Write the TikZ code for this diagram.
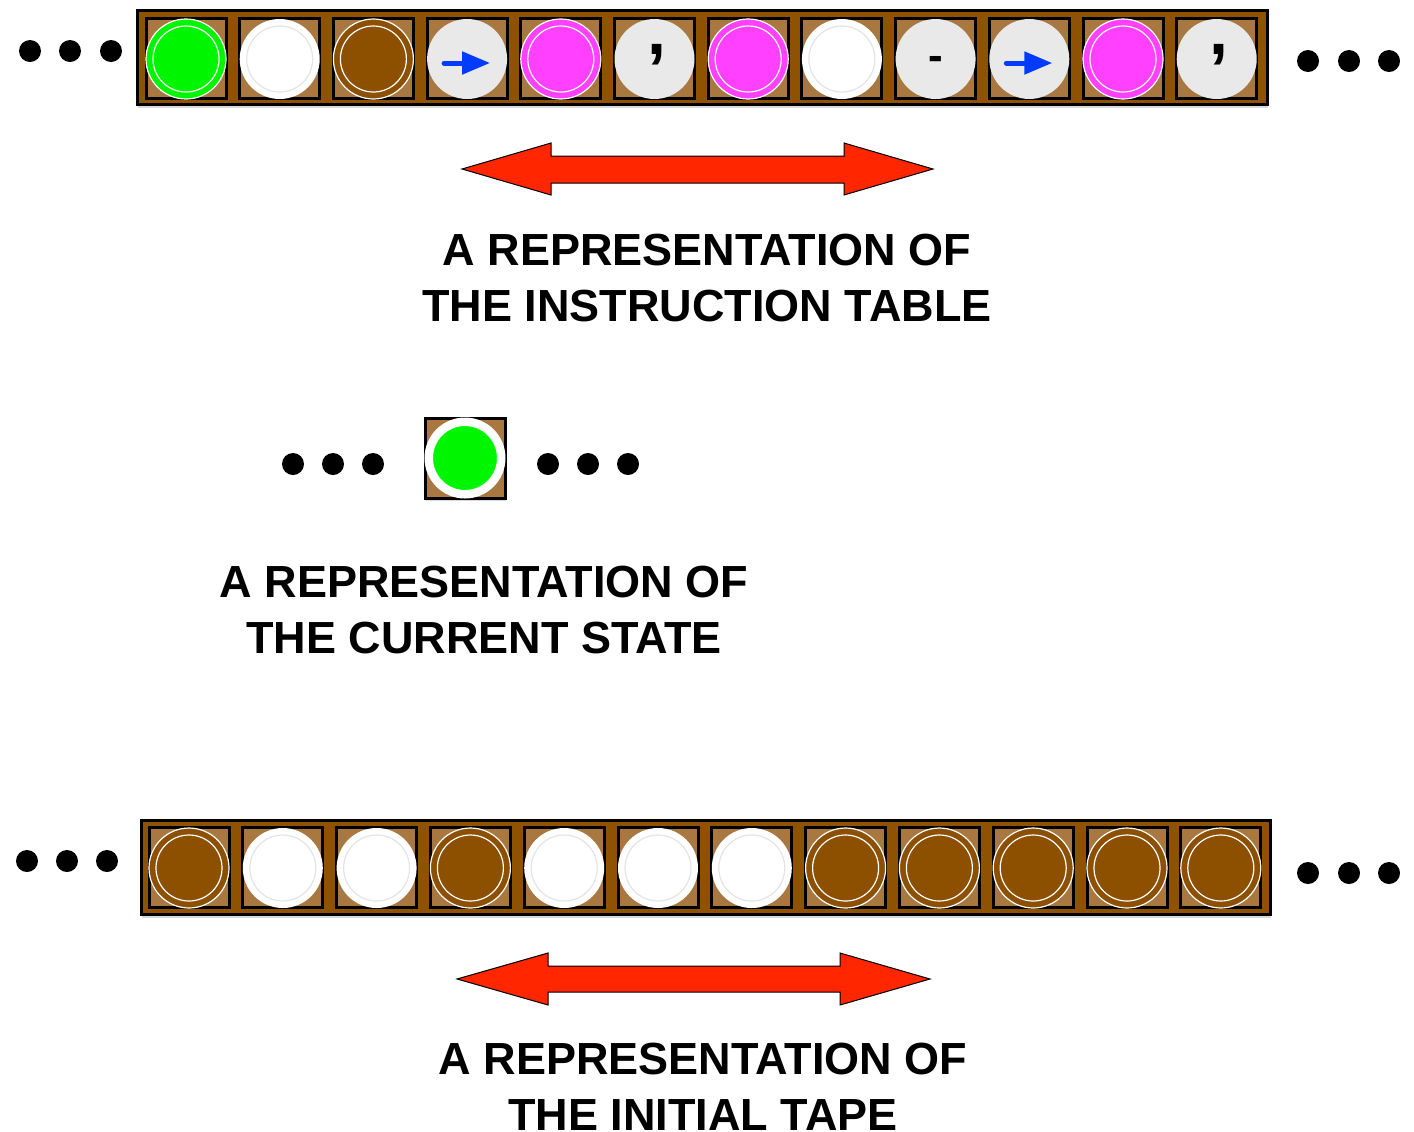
\documentclass[tikz,border=0pt]{standalone}
\usepackage{fontspec}
\setmainfont{Liberation Sans}
\usetikzlibrary{arrows.meta,shadows}

\definecolor{tapebrown}{RGB}{142,82,0}
\definecolor{cellbrown}{RGB}{168,120,64}
\definecolor{discbrown}{RGB}{140,80,0}
\definecolor{discgreen}{RGB}{0,245,0}
\definecolor{discpink}{RGB}{255,64,255}
\definecolor{discgrey}{RGB}{233,233,233}
\definecolor{ringgrey}{RGB}{228,228,228}
\definecolor{arrowblue}{RGB}{0,60,255}
\definecolor{arrowred}{RGB}{255,38,0}

\tikzset{
  softshadow/.style={drop shadow={shadow xshift=0.6pt, shadow yshift=-1.5pt, opacity=0.3}},
  tape/.style={draw=black, line width=1.5pt, fill=tapebrown, minimum height=47pt, inner sep=0pt, softshadow},
  cell/.style={draw=black, line width=1.5pt, fill=cellbrown, minimum size=40pt, inner sep=0pt},
  disc/.style={circle, minimum size=40pt, inner sep=0pt},
  ring/.style={path picture={\draw[#1, line width=0.6pt] (path picture bounding box.center) circle (16.5pt);}},
  greendisc/.style={disc, fill=discgreen, draw=white, line width=0.6pt, ring=white},
  whitedisc/.style={disc, fill=white, ring=ringgrey},
  browndisc/.style={disc, fill=discbrown, draw=white, line width=0.6pt, ring=white},
  pinkdisc/.style={disc, fill=discpink, draw=white, line width=0.6pt, ring=white},
  greydisc/.style={disc, fill=discgrey},
  statedisc/.style={circle, minimum size=36.25pt, inner sep=0pt, fill=discgreen, draw=white, line width=4.25pt},
  glyph/.style={font=\bfseries, inner sep=0pt},
  caption/.style={font=\bfseries\fontsize{22.5}{28}\selectfont, align=center, inner sep=0pt},
  bluearrow/.style={arrowblue, line width=2.5pt, line cap=round, -{Triangle[length=14pt,width=11pt]}},
  redarrow/.style={fill=arrowred, draw=black, line width=0.5pt, line join=miter}
}

\begin{document}
\begin{tikzpicture}[x=0.5pt, y=-0.5pt]
  \useasboundingbox (0,0) rectangle (1414,1131);

  % instruction table
  \node[tape, minimum width=565pt] (toptape) at (702,57.5) {};
  \foreach \kind [count=\i] in {greendisc,whitedisc,browndisc,greydisc,pinkdisc,greydisc,
                                pinkdisc,whitedisc,greydisc,greydisc,pinkdisc,greydisc} {
    \node[cell] (tc\i) at ({186+93.7*(\i-1)},58) {};
    \node[\kind] (t\i) at ([yshift=-0.5pt]tc\i.center) {};
  }
  \draw[bluearrow] ([xshift=-11.5pt,yshift=-2pt]t4.center) -- ([xshift=11.5pt,yshift=-2pt]t4.center);
  \draw[bluearrow] ([xshift=-11.5pt,yshift=-2pt]t10.center) -- ([xshift=11.5pt,yshift=-2pt]t10.center);
  \node[glyph, font=\bfseries\fontsize{34}{34}\selectfont] (k6) at ([xshift=1pt,yshift=2pt]t6.center) {,};
  \node[glyph, font=\bfseries\fontsize{34}{34}\selectfont] (k12) at ([xshift=1pt,yshift=2pt]t12.center) {,};
  \node[glyph, font=\bfseries\fontsize{22}{22}\selectfont] (k9) at ([yshift=-2pt]t9.center) {-};

  \foreach \x in {30,70,111} \fill (\x,51) circle (5.5pt);
  \foreach \x in {1308,1349,1389} \fill (\x,61) circle (5.5pt);

  \filldraw[redarrow] (462,169) -- (551,143) -- (551,156) -- (844,156) -- (844,143) -- (933,169)
    -- (844,195) -- (844,183) -- (551,183) -- (551,195) -- cycle;
  \node[caption] (tabletext) at (707,278) {A REPRESENTATION OF\\THE INSTRUCTION TABLE};

  % current state
  \node[cell, softshadow] (statecell) at (465,458) {};
  \node[statedisc] (state) at (statecell) {};
  \foreach \x in {293,333,373} \fill (\x,464) circle (5.5pt);
  \foreach \x in {548,588,628} \fill (\x,464) circle (5.5pt);
  \node[caption] (statetext) at (484,610) {A REPRESENTATION OF\\THE CURRENT STATE};

  % initial tape
  \node[tape, minimum width=564.5pt] (bottape) at (705.5,867.5) {};
  \foreach \kind [count=\i] in {browndisc,whitedisc,whitedisc,browndisc,whitedisc,whitedisc,
                                whitedisc,browndisc,browndisc,browndisc,browndisc,browndisc} {
    \node[cell] (bc\i) at ({189+93.8*(\i-1)},867) {};
    \node[\kind] (b\i) at ([yshift=-0.5pt]bc\i.center) {};
  }
  \foreach \x in {27,67,107} \fill (\x,861) circle (5.5pt);
  \foreach \x in {1308,1349,1389} \fill (\x,873) circle (5.5pt);

  \filldraw[redarrow] (457,979) -- (548,953) -- (548,966) -- (840,966) -- (840,953) -- (930,979)
    -- (840,1005) -- (840,992) -- (548,992) -- (548,1005) -- cycle;
  \node[caption] (tapetext) at (703,1087) {A REPRESENTATION OF\\THE INITIAL TAPE};
\end{tikzpicture}
\end{document}
